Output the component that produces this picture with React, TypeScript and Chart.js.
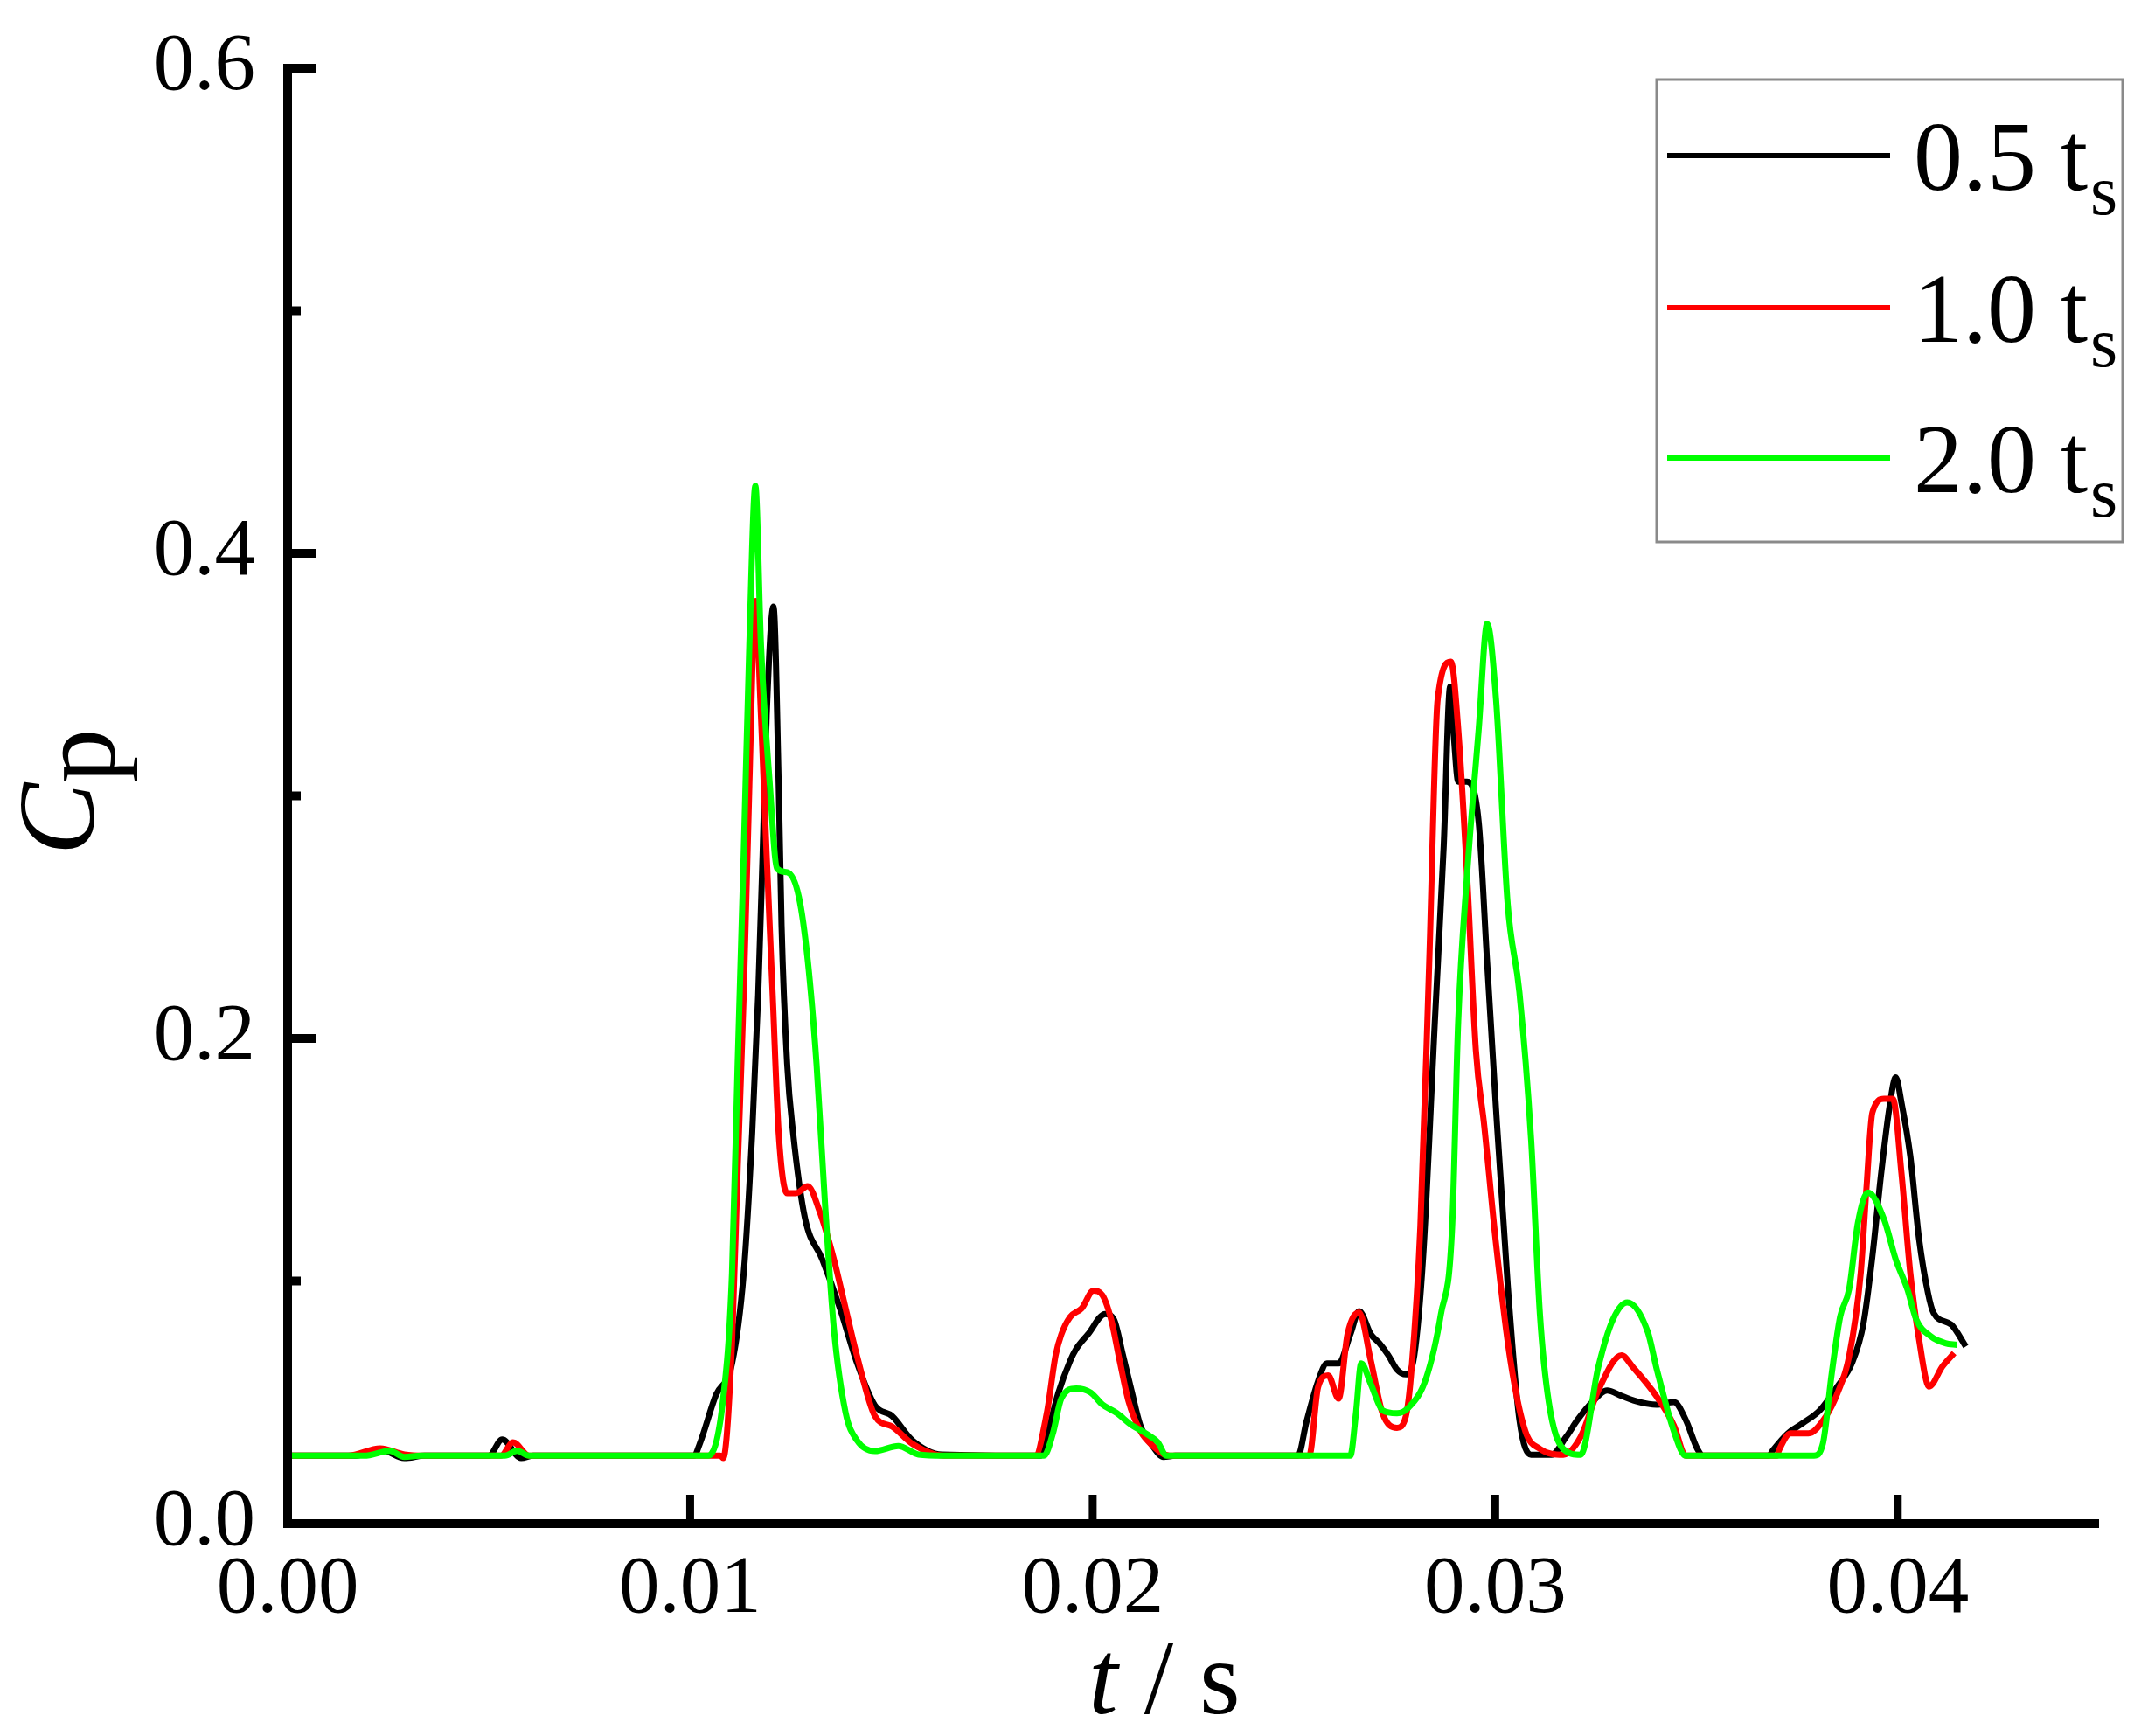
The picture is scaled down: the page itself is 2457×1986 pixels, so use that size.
import React, { useEffect, useRef } from "react";
import { Chart, registerables } from "chart.js";
Chart.register(...registerables);

// ---------- data ----------
const xTickValues = [0, 0.01, 0.02, 0.03, 0.04];
const xTickLabels = ["0.00", "0.01", "0.02", "0.03", "0.04"];
const yTickValues = [0, 0.1, 0.2, 0.3, 0.4, 0.5, 0.6];
const yTickLabels = ["0.0", "", "0.2", "", "0.4", "", "0.6"];

const seriesNames = ["0.5", "1.0", "2.0"];
const seriesColors = ["#000000", "#ff0000", "#00ff00"];

const t05 = [0, 0.0017, 0.0023, 0.0029, 0.0034, 0.005, 0.00533, 0.0058, 0.0061, 0.0101,
  0.01024, 0.01064, 0.01104, 0.01133, 0.01154, 0.01169, 0.0118, 0.0119, 0.01207, 0.0122,
  0.01227, 0.01241, 0.01256, 0.01285, 0.01328, 0.01372, 0.01415, 0.01459, 0.01502, 0.01553,
  0.01625, 0.0187, 0.01886, 0.01915, 0.01944, 0.01959, 0.01988, 0.02031, 0.02053, 0.02075,
  0.02096, 0.02118, 0.02147, 0.02176, 0.02205, 0.0251, 0.02531, 0.0256, 0.02582, 0.02611,
  0.0264, 0.02662, 0.02691, 0.02712, 0.02734, 0.02756, 0.02778, 0.02799, 0.02821, 0.0285,
  0.02872, 0.02888, 0.02897, 0.02908, 0.0293, 0.02959, 0.0298, 0.03002, 0.03031, 0.0306,
  0.03089, 0.0314, 0.03176, 0.03205, 0.03241, 0.03278, 0.03314, 0.03357, 0.034, 0.03444,
  0.03473, 0.03502, 0.03516, 0.0368, 0.0369, 0.03727, 0.03763, 0.03807, 0.0385, 0.03886,
  0.03915, 0.03937, 0.03959, 0.0398, 0.03995, 0.04009, 0.04031, 0.04053, 0.04075, 0.04089,
  0.04133, 0.04169];
const cp05 = [0.028, 0.028, 0.0305, 0.027, 0.028, 0.028, 0.0347, 0.027, 0.028, 0.028,
  0.033, 0.053, 0.066, 0.1032, 0.1607, 0.218, 0.2756, 0.333, 0.378, 0.3043,
  0.2468, 0.1894, 0.1607, 0.1261, 0.109, 0.0888, 0.066, 0.0487, 0.0443, 0.0342,
  0.0285, 0.028, 0.036, 0.054, 0.0671, 0.072, 0.078, 0.0864, 0.084, 0.0695,
  0.0551, 0.0407, 0.0324, 0.0275, 0.028, 0.028, 0.0419, 0.0587, 0.066, 0.066,
  0.078, 0.0876, 0.078, 0.0744, 0.0695, 0.0635, 0.0615, 0.0695, 0.1104, 0.2069,
  0.2793, 0.345, 0.325, 0.3059, 0.3059, 0.289, 0.2311, 0.1708, 0.0984, 0.0429,
  0.0284, 0.0284, 0.0357, 0.0429, 0.0501, 0.0549, 0.0526, 0.0501, 0.049, 0.0501,
  0.0429, 0.0308, 0.028, 0.028, 0.0303, 0.0372, 0.0413, 0.0468, 0.0565, 0.0661,
  0.0827, 0.1103, 0.1447, 0.1723, 0.184, 0.1737, 0.1516, 0.1172, 0.0951, 0.0868,
  0.082, 0.073];

const t10 = [0, 0.0015, 0.0023, 0.0029, 0.0034, 0.0053, 0.0056, 0.006, 0.01075, 0.01082,
  0.01104, 0.01118, 0.01133, 0.01147, 0.01162, 0.01176, 0.0119, 0.01205, 0.0122, 0.01241,
  0.01263, 0.01292, 0.01321, 0.01357, 0.01386, 0.01415, 0.01459, 0.01502, 0.01553, 0.0163,
  0.01857, 0.01886, 0.01908, 0.01922, 0.01944, 0.01973, 0.02002, 0.02024, 0.02046, 0.02067,
  0.02089, 0.02118, 0.02147, 0.02191, 0.02538, 0.0256, 0.02585, 0.02611, 0.02633, 0.02662,
  0.02691, 0.0272, 0.02756, 0.02778, 0.02792, 0.02814, 0.02836, 0.02857, 0.0289, 0.02908,
  0.0293, 0.02952, 0.02973, 0.03002, 0.03038, 0.03075, 0.03111, 0.03169, 0.03212, 0.03256,
  0.03314, 0.03342, 0.034, 0.03444, 0.03473, 0.037, 0.03705, 0.03734, 0.03778, 0.03821,
  0.0385, 0.03879, 0.03908, 0.03922, 0.03937, 0.03966, 0.03988, 0.04009, 0.04031, 0.04053,
  0.04078, 0.04111, 0.0414];
const cp10 = [0.028, 0.028, 0.031, 0.0285, 0.028, 0.028, 0.0335, 0.028, 0.028, 0.027,
  0.0746, 0.1463, 0.218, 0.3043, 0.3804, 0.333, 0.2756, 0.218, 0.1607, 0.1362,
  0.1362, 0.1391, 0.129, 0.109, 0.0888, 0.0688, 0.0443, 0.04, 0.0328, 0.028,
  0.028, 0.0455, 0.0695, 0.078, 0.0852, 0.0888, 0.096, 0.0942, 0.084, 0.0671,
  0.0504, 0.0383, 0.0324, 0.028, 0.028, 0.0563, 0.0611, 0.0515, 0.078, 0.087,
  0.0671, 0.0455, 0.0395, 0.0443, 0.0635, 0.1225, 0.2311, 0.3398, 0.3553, 0.3276,
  0.2674, 0.195, 0.1636, 0.1153, 0.067, 0.038, 0.0308, 0.0284, 0.0357, 0.0549,
  0.0694, 0.0645, 0.0526, 0.0404, 0.028, 0.028, 0.0303, 0.0372, 0.0372, 0.0441,
  0.0537, 0.0689, 0.1034, 0.1378, 0.1695, 0.1751, 0.1751, 0.1447, 0.1034, 0.0758,
  0.0565, 0.0648, 0.0703];

const t20 = [0, 0.0019, 0.00254, 0.0029, 0.0033, 0.0054, 0.0057, 0.006, 0.01045, 0.01082,
  0.01104, 0.01118, 0.01133, 0.01147, 0.01162, 0.01176, 0.01198, 0.01216, 0.01241, 0.0127,
  0.01292, 0.01314, 0.01335, 0.01357, 0.01386, 0.01415, 0.01459, 0.01517, 0.01567, 0.0163,
  0.01879, 0.01901, 0.01922, 0.01959, 0.01995, 0.02024, 0.0206, 0.02096, 0.02133, 0.02162,
  0.02183, 0.0264, 0.02654, 0.02667, 0.02691, 0.0272, 0.02756, 0.02785, 0.02828, 0.02865,
  0.02893, 0.02908, 0.0293, 0.02959, 0.0298, 0.03002, 0.03031, 0.0306, 0.03089, 0.03111,
  0.03133, 0.03169, 0.03212, 0.03256, 0.03292, 0.03328, 0.03379, 0.034, 0.03444, 0.03473,
  0.03792, 0.03814, 0.03836, 0.03857, 0.03879, 0.03901, 0.03926, 0.03966, 0.03995, 0.04024,
  0.04046, 0.04082, 0.04118, 0.04147];
const cp20 = [0.028, 0.028, 0.03, 0.0275, 0.028, 0.028, 0.03, 0.028, 0.028, 0.0515,
  0.1032, 0.1894, 0.2756, 0.3618, 0.4278, 0.3618, 0.3043, 0.27, 0.2685, 0.2584,
  0.2324, 0.1894, 0.1319, 0.0803, 0.0458, 0.0342, 0.0299, 0.032, 0.0285, 0.028,
  0.028, 0.0371, 0.0515, 0.0557, 0.054, 0.0491, 0.0455, 0.0407, 0.0371, 0.0335,
  0.028, 0.028, 0.0455, 0.066, 0.0575, 0.0467, 0.0455, 0.0479, 0.0598, 0.0863,
  0.1225, 0.2069, 0.2674, 0.3276, 0.371, 0.3398, 0.2552, 0.2191, 0.1587, 0.0863,
  0.0501, 0.0308, 0.0284, 0.0645, 0.084, 0.0912, 0.079, 0.0645, 0.038, 0.028,
  0.028, 0.033, 0.062, 0.0854, 0.0965, 0.124, 0.1365, 0.1254, 0.1089, 0.0965,
  0.0841, 0.0772, 0.0744, 0.0737];

const seriesT = [t05, t10, t20];
const seriesCp = [cp05, cp10, cp20];

const SERIF = "'Liberation Serif', 'Times New Roman', serif";

const overlayPlugin = {
  id: "overlay",
  afterDraw(chart: any) {
    const ctx: CanvasRenderingContext2D = chart.ctx;
    const { left, right, top, bottom } = chart.chartArea;
    const xs = chart.scales.x;
    const ys = chart.scales.y;
    ctx.save();
    ctx.strokeStyle = "#000";
    ctx.fillStyle = "#000";
    ctx.lineCap = "butt";

    // axis lines
    ctx.lineWidth = 10;
    ctx.beginPath();
    ctx.moveTo(left, top - 5);
    ctx.lineTo(left, bottom + 5);
    ctx.stroke();
    ctx.beginPath();
    ctx.moveTo(left - 5, bottom);
    ctx.lineTo(right, bottom);
    ctx.stroke();

    // inward ticks
    ctx.lineWidth = 9;
    xTickValues.forEach((v) => {
      if (v === 0) return;
      const px = xs.getPixelForValue(v);
      ctx.beginPath();
      ctx.moveTo(px, bottom);
      ctx.lineTo(px, bottom - 33);
      ctx.stroke();
    });
    ctx.lineWidth = 10;
    yTickValues.forEach((v, i) => {
      const py = ys.getPixelForValue(v);
      const len = yTickLabels[i] ? 33 : 15;
      ctx.beginPath();
      ctx.moveTo(left, py);
      ctx.lineTo(left + len, py);
      ctx.stroke();
    });

    // x title: "t / s"
    ctx.textBaseline = "alphabetic";
    ctx.textAlign = "left";
    const fItal = `italic 120px ${SERIF}`;
    const fNorm = `120px ${SERIF}`;
    ctx.font = fItal;
    const wT = ctx.measureText("t").width;
    ctx.font = fNorm;
    const wRest = ctx.measureText(" / s").width;
    const xc = 1332;
    const xStart = xc - (wT + wRest) / 2;
    ctx.font = fItal;
    ctx.fillText("t", xStart, 1960);
    ctx.font = fNorm;
    ctx.fillText(" / s", xStart + wT, 1960);

    // y title: "C" italic + "p" lowered
    ctx.save();
    ctx.translate(107, 906);
    ctx.rotate(-Math.PI / 2);
    const fC = `italic 124px ${SERIF}`;
    const fP = `124px ${SERIF}`;
    ctx.font = fC;
    const wC = ctx.measureText("C").width;
    ctx.font = fP;
    const wP = ctx.measureText("p").width;
    const s0 = -(wC + wP) / 2;
    ctx.font = fC;
    ctx.fillText("C", s0, 0);
    ctx.font = fP;
    ctx.fillText("p", s0 + wC, 23);
    ctx.restore();

    // legend
    const bx = 1895, by = 91, bw = 533, bh = 529;
    ctx.fillStyle = "#ffffff";
    ctx.fillRect(bx, by, bw, bh);
    ctx.strokeStyle = "#8a8a8a";
    ctx.lineWidth = 3;
    ctx.strokeRect(bx, by, bw, bh);
    const rowY = [178, 352, 524];
    seriesNames.forEach((name, i) => {
      const y = rowY[i];
      ctx.strokeStyle = seriesColors[i];
      ctx.lineWidth = 6;
      ctx.beginPath();
      ctx.moveTo(1907, y);
      ctx.lineTo(2162, y);
      ctx.stroke();
      ctx.fillStyle = "#000";
      ctx.font = `112px ${SERIF}`;
      const main = name + " t";
      ctx.fillText(main, 2189, y + 39);
      const wm = ctx.measureText(main).width;
      ctx.font = `80px ${SERIF}`;
      ctx.fillText("s", 2189 + wm + 3, y + 67);
    });

    ctx.restore();
  },
};

export default function App() {
  const canvasRef = useRef<HTMLCanvasElement | null>(null);

  useEffect(() => {
    const canvas = canvasRef.current;
    if (!canvas) return;
    const datasets = seriesNames.map((name, i) => ({
      label: name + " ts",
      data: seriesT[i].map((t, j) => ({ x: t, y: seriesCp[i][j] })),
      borderColor: seriesColors[i],
      backgroundColor: seriesColors[i],
      borderWidth: 7,
      pointRadius: 0,
      fill: false,
      cubicInterpolationMode: "monotone" as const,
      order: 3 - i,
    }));

    const chart = new Chart(canvas, {
      type: "line",
      data: { datasets },
      options: {
        animation: false,
        responsive: false,
        devicePixelRatio: 1,
        layout: { padding: { top: 78, right: 56, bottom: 0, left: 0 } },
        plugins: {
          legend: { display: false },
          tooltip: { enabled: false },
          title: { display: false },
        },
        scales: {
          x: {
            type: "linear",
            min: 0,
            max: 0.045,
            afterFit: (s: any) => {
              s.height = 243;
              s.paddingLeft = 0;
              s.paddingRight = 0;
            },
            afterBuildTicks: (s: any) => {
              s.ticks = xTickValues.map((v) => ({ value: v }));
            },
            grid: { display: false, drawTicks: false },
            border: { display: false },
            ticks: {
              padding: 21,
              maxRotation: 0,
              autoSkip: false,
              color: "#000",
              font: { family: SERIF, size: 93 },
              callback: (_v: any, i: number) => xTickLabels[i],
            },
          },
          y: {
            type: "linear",
            min: 0,
            max: 0.6,
            afterFit: (s: any) => {
              s.width = 329;
              s.paddingTop = 0;
              s.paddingBottom = 0;
            },
            afterBuildTicks: (s: any) => {
              s.ticks = yTickValues.map((v) => ({ value: v }));
            },
            grid: { display: false, drawTicks: false },
            border: { display: false },
            ticks: {
              padding: 37,
              autoSkip: false,
              color: "#000",
              font: { family: SERIF, size: 93 },
              callback: (_v: any, i: number) => yTickLabels[i],
            },
          },
        },
      },
      plugins: [overlayPlugin],
    });
    return () => chart.destroy();
  }, []);

  return (
    <div style={{ position: "fixed", left: 0, top: 0, width: 2457, height: 1986, background: "#fff" }}>
      <canvas ref={canvasRef} width={2457} height={1986} style={{ display: "block", width: 2457, height: 1986 }} />
    </div>
  );
}
